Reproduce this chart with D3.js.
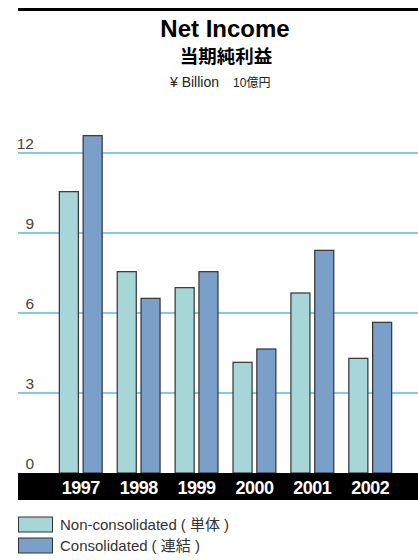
<!DOCTYPE html>
<html>
<head>
<meta charset="utf-8">
<script src="https://cdn.jsdelivr.net/npm/d3@7"></script>
<style>
  body { margin: 0; background: #fff; }
  text { font-family: "Liberation Sans", Arial, sans-serif; }
  .cjk { font-family: "Liberation Sans", "Noto Sans CJK JP", sans-serif; }
</style>
</head>
<body>
<div id="chart"></div>
<script>
const years = ['1997', '1998', '1999', '2000', '2001', '2002']
const nonConsolidated = [10.55, 7.55, 6.95, 4.15, 6.75, 4.3]
const consolidated = [12.65, 6.55, 7.55, 4.65, 8.35, 5.65]
const yTicks = [0, 3, 6, 9, 12]
const seriesNames = [['Non-consolidated', '単体'], ['Consolidated', '連結']]
const seriesColors = ['#a6d6d7', '#7a9fc9']

const width = 418, height = 560
const svg = d3.select('#chart').append('svg')
  .attr('width', width)
  .attr('height', height)

// top rule
svg.append('rect')
  .attr('x', 18).attr('y', 8)
  .attr('width', width - 18).attr('height', 3)
  .style('fill', '#000')

// titles
svg.append('text')
  .attr('x', 225).attr('y', 37)
  .style('text-anchor', 'middle')
  .style('font-size', '24px')
  .style('font-weight', 'bold')
  .text('Net Income')
svg.append('text')
  .attr('class', 'cjk')
  .attr('x', 226).attr('y', 63)
  .style('text-anchor', 'middle')
  .style('font-size', '18.5px')
  .style('font-weight', 'bold')
  .text('当期純利益')
const unit = svg.append('text')
  .attr('class', 'cjk')
  .attr('x', 170).attr('y', 87)
  .style('fill', '#222')
unit.append('tspan').style('font-size', '14px').text('¥ Billion')
unit.append('tspan').attr('dx', 14).style('font-size', '12px').text('10億円')

const y = d3.scaleLinear().domain([0, 12]).range([473, 153])
const x0 = d3.scaleBand().domain(years).range([51.8, 399.2])
  .paddingInner(0.26).paddingOuter(0.13)
const x1 = d3.scaleBand().domain([0, 1]).range([0, x0.bandwidth()]).paddingInner(0.2)

// gridlines
svg.selectAll('.grid')
  .data(yTicks.filter(d => d > 0))
  .enter().append('line')
  .attr('x1', 18).attr('x2', width)
  .attr('y1', d => y(d)).attr('y2', d => y(d))
  .style('stroke', '#57b8e4')
  .style('stroke-width', 1.5)

// tick labels
svg.selectAll('.tick')
  .data(yTicks)
  .enter().append('text')
  .attr('x', 34)
  .attr('y', d => y(d) - 4.5)
  .style('text-anchor', 'end')
  .style('font-size', '15.5px')
  .style('fill', '#444')
  .text(d => d)

// bars
const groups = svg.selectAll('.group')
  .data(years)
  .enter().append('g')
  .attr('transform', d => `translate(${x0(d)},0)`)
groups.selectAll('rect')
  .data((d, i) => [nonConsolidated[i], consolidated[i]])
  .enter().append('rect')
  .attr('x', (d, j) => x1(j))
  .attr('y', d => y(d))
  .attr('width', x1.bandwidth())
  .attr('height', d => y(0) - y(d))
  .style('fill', (d, j) => seriesColors[j])
  .style('stroke', '#333')
  .style('stroke-width', 1.2)

// year band
svg.append('rect')
  .attr('x', 18).attr('y', 473)
  .attr('width', width - 18).attr('height', 27)
  .style('fill', '#000')
svg.selectAll('.year')
  .data(years)
  .enter().append('text')
  .attr('x', d => x0(d) + x0.bandwidth() / 2)
  .attr('y', 494)
  .style('text-anchor', 'middle')
  .style('font-size', '18px')
  .style('font-weight', 'bold')
  .style('letter-spacing', '-0.5px')
  .style('fill', '#fff')
  .text(d => d)

// legend
const legend = svg.selectAll('.legend')
  .data(seriesNames)
  .enter().append('g')
  .attr('transform', (d, i) => `translate(18, ${517 + i * 21})`)
legend.append('rect')
  .attr('x', 0.5).attr('y', 0)
  .attr('width', 34).attr('height', 15)
  .style('fill', (d, i) => seriesColors[i])
  .style('stroke', '#333')
  .style('stroke-width', 1)
const legendText = legend.append('text')
  .attr('class', 'cjk')
  .attr('x', 42).attr('y', 13)
  .style('font-size', '15px')
  .style('fill', '#333')
legendText.append('tspan').text(d => d[0])
legendText.append('tspan').attr('dx', 4).text(d => `( ${d[1]} )`)
</script>
</body>
</html>
